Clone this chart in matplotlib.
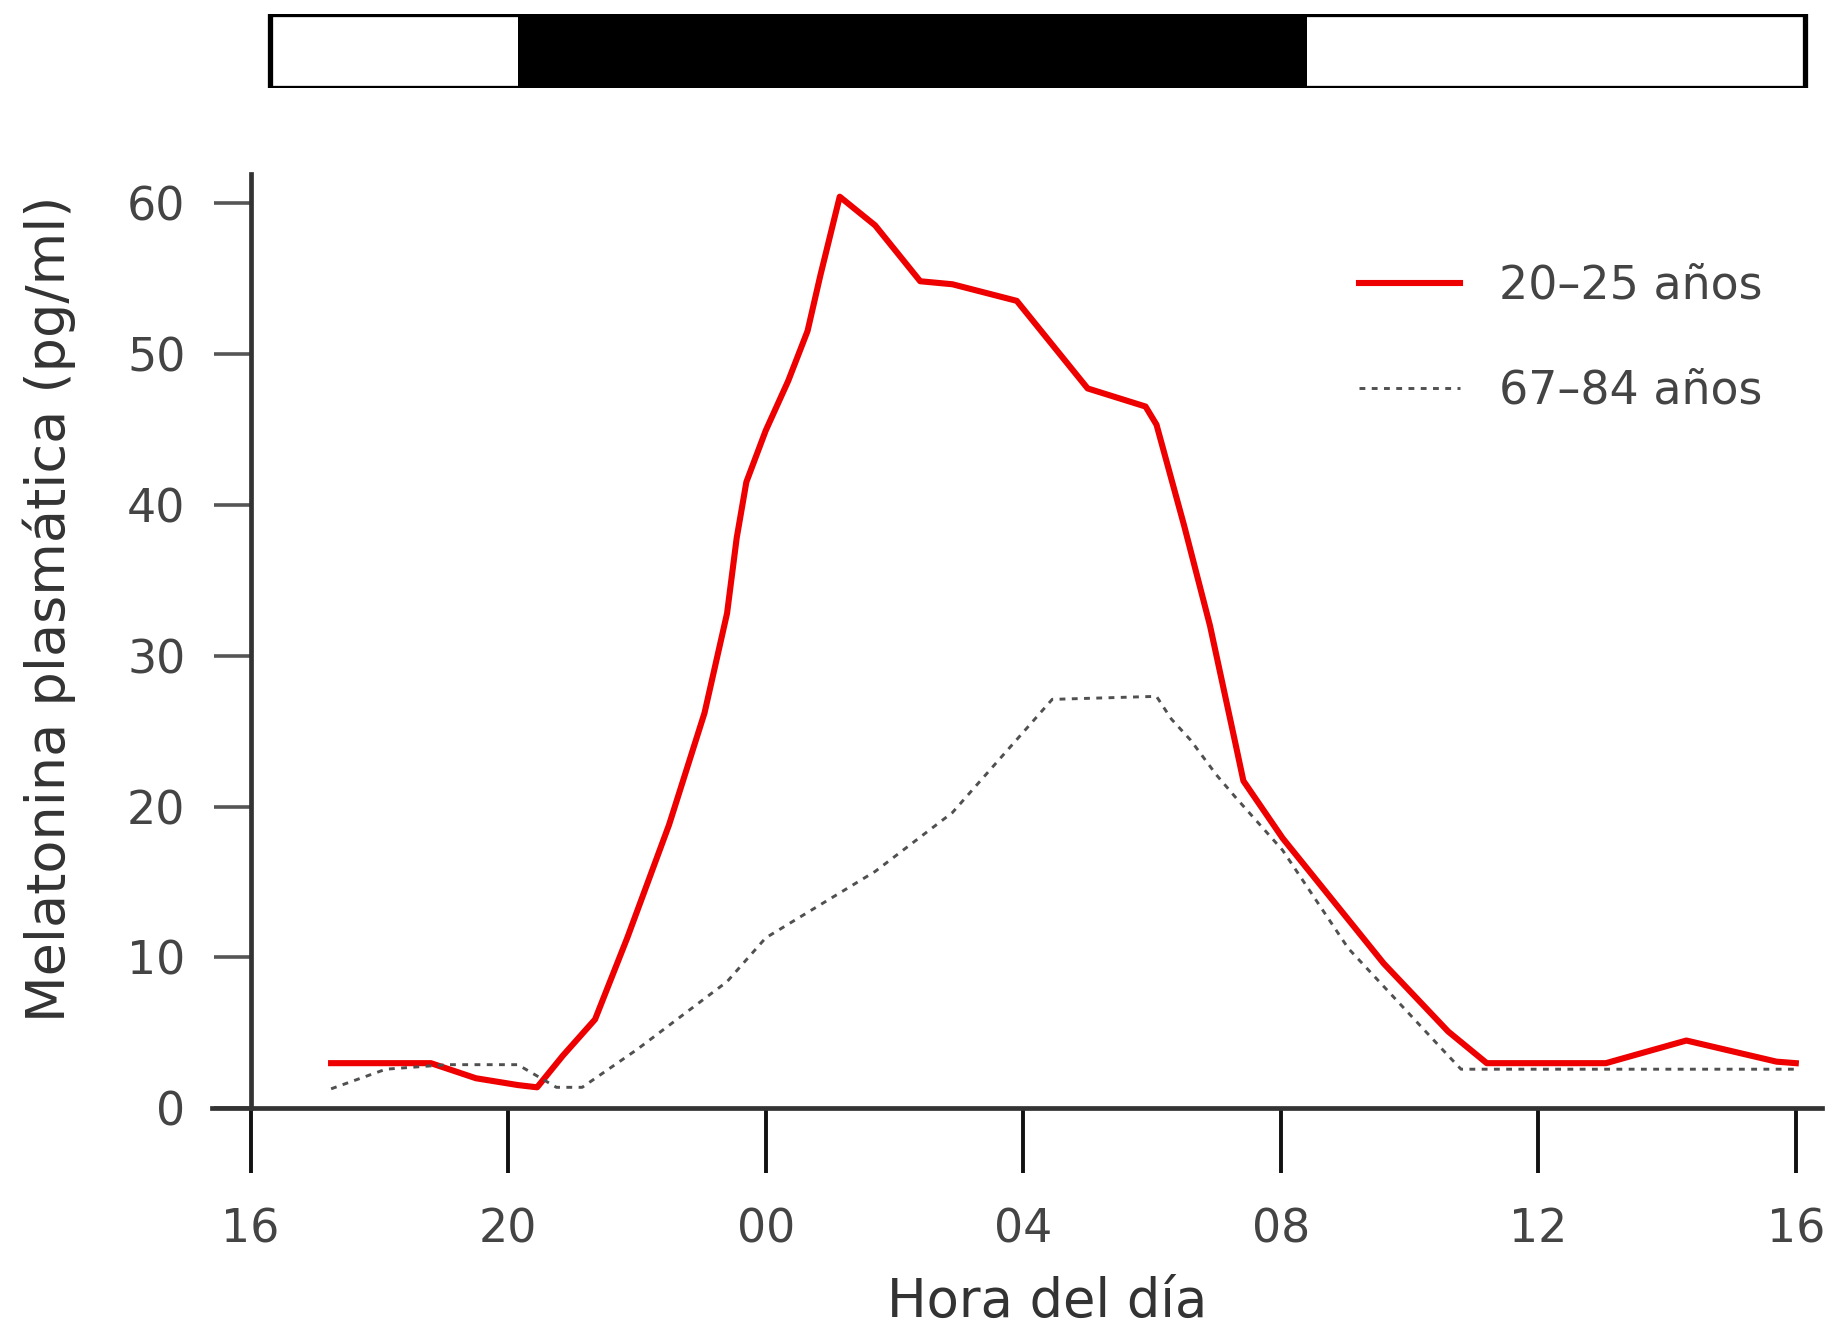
import matplotlib
matplotlib.use("Agg")
import matplotlib.pyplot as plt
from matplotlib.patches import Rectangle

# hours counted from 16:00
hora_jovenes = [1.25, 2.8, 3.5, 4.15, 4.45, 4.85, 5.35, 5.85, 6.5, 7.05, 7.4, 7.55,
                7.7, 8.0, 8.35, 8.65, 8.85, 9.15, 9.7, 10.4, 10.9, 11.9, 13.0, 13.9,
                14.07, 14.5, 14.9, 15.3, 15.42, 16.03, 17.6, 18.6, 19.2, 21.05, 22.3,
                23.7, 24.0]
mel_jovenes = [3.0, 3.0, 2.0, 1.55, 1.4, 3.5, 5.9, 11.3, 18.8, 26.2, 32.8, 37.8,
               41.5, 44.9, 48.2, 51.5, 55.2, 60.4, 58.5, 54.8, 54.6, 53.5, 47.7, 46.5,
               45.3, 38.6, 32.0, 24.1, 21.7, 17.9, 9.6, 5.1, 3.0, 3.0, 4.5,
               3.1, 3.0]

hora_mayores = [1.25, 2.1, 3.05, 4.15, 4.75, 5.15, 6.0, 7.4, 8.0, 9.7, 10.9, 12.45,
                14.07, 14.3, 14.6, 15.0, 15.3, 16.03, 17.05, 18.6, 18.8, 24.0]
mel_mayores = [1.3, 2.6, 2.9, 2.9, 1.4, 1.4, 3.9, 8.4, 11.3, 15.7, 19.6, 27.1,
               27.3, 25.8, 24.4, 22.1, 20.6, 17.1, 10.6, 3.5, 2.6, 2.6]

ticks_x = [0, 4, 8, 12, 16, 20, 24]
etiquetas_x = ["16", "20", "00", "04", "08", "12", "16"]
ticks_y = [0, 10, 20, 30, 40, 50, 60]

# dark period (as drawn, ~20:00 - 08:00)
noche_ini, noche_fin = 4.15, 16.4

fig = plt.figure(figsize=(18.45, 13.4), dpi=100)
ax = fig.add_axes([0.1149, 0.1728, 0.8724, 0.6973])

ax.plot(hora_jovenes, mel_jovenes, color='#ee0000', lw=4.4, label='20–25 años')
ax.plot(hora_mayores, mel_mayores, color='#505050', lw=2.1, ls=(0, (2.0, 2.2)),
        label='67–84 años')

ax.set_xlim(-0.6, 24.4)
ax.set_ylim(0, 61.9)
ax.spines['top'].set_visible(False)
ax.spines['right'].set_visible(False)
ax.spines['left'].set_position(('data', 0))
for s in ['left', 'bottom']:
    ax.spines[s].set_linewidth(3.4)
    ax.spines[s].set_color('#333333')

ax.set_xticks(ticks_x)
ax.set_xticklabels(etiquetas_x)
ax.set_yticks(ticks_y)
ax.tick_params(axis='x', direction='out', length=47, width=2.8, color='#111111',
               pad=24, labelsize=33, labelcolor='#444444')
ax.tick_params(axis='y', direction='out', length=27, width=2.6, color='#555555',
               pad=20, labelsize=33, labelcolor='#444444')

ax.set_xlabel('Hora del día', fontsize=38, color='#333333', va='center')
ax.xaxis.set_label_coords(0.519, -0.207)
ax.set_ylabel('Melatonina plasmática (pg/ml)', fontsize=39, color='#333333',
              va='center')
ax.yaxis.set_label_coords(-0.101, 0.535)

ax.legend(loc='upper left', bbox_to_anchor=(0.7366, 0.803),
          bbox_transform=fig.transFigure, frameon=False, fontsize=33,
          handlelength=2.2, handletextpad=0.85, labelspacing=1.3,
          borderpad=0, borderaxespad=0, labelcolor='#444444')

# light/dark bar on top
bar = fig.add_axes([0.1149, 0.9343, 0.8724, 0.0552])
bar.set_xlim(-0.6, 24.4)
bar.set_ylim(0, 1)
bar.axis('off')
bar.add_patch(Rectangle((0.3, 0), 23.85, 1, facecolor='white', edgecolor='none'))
bar.add_patch(Rectangle((noche_ini, 0), noche_fin - noche_ini, 1,
                        facecolor='black', edgecolor='none'))
bar.add_patch(Rectangle((0.3, 0), 23.85, 1, facecolor='none', edgecolor='black',
                        lw=3.8))

fig.savefig('out.png', dpi=100, facecolor='white')
